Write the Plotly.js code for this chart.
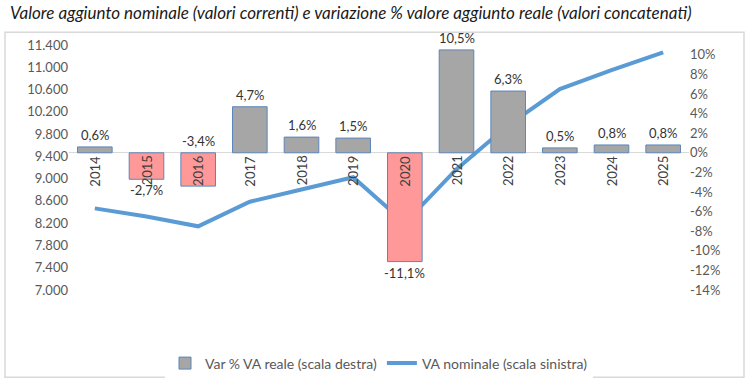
<!DOCTYPE html>
<html>
<head>
<meta charset="utf-8">
<script src="https://cdn.plot.ly/plotly-3.0.1.min.js"></script>
<style>html,body{margin:0;padding:0;background:#fff;}#chart{width:750px;height:391px;}</style>
</head>
<body>
<div id="chart"></div>
<script>
// ---- data ----
const years = ['2014','2015','2016','2017','2018','2019','2020','2021','2022','2023','2024','2025'];
const varReale = [0.6, -2.7, -3.4, 4.7, 1.6, 1.5, -11.1, 10.5, 6.3, 0.5, 0.8, 0.8];
const vaNominale = [8466, 8320, 8144, 8585, 8805, 9025, 8202, 9171, 9958, 10609, 10949, 11266];
const leftTicks = [7000, 7400, 7800, 8200, 8600, 9000, 9400, 9800, 10200, 10600, 11000, 11400];
const rightTicks = [-14, -12, -10, -8, -6, -4, -2, 0, 2, 4, 6, 8, 10];

// ---- styling ----
const FONT = 'Lato, "Liberation Sans", sans-serif';
const leftRange = [7000, 11400];
const rightRange = [-14, 11];
const labelAbove = new Set(['2016']);

const fmtIt = v => v.toLocaleString('it-IT');
const fmtPct = v => v.toFixed(1).replace('.', ',') + '%';

const barColors = varReale.map(v => v < 0 ? '#FF9999' : '#A6A6A6');

const bars = {
  type: 'bar', x: years, y: varReale, yaxis: 'y2', xaxis: 'x',
  name: 'Var % VA reale (scala destra)',
  marker: {color: barColors, line: {color: '#5B86B9', width: 1}},
  hoverinfo: 'skip'
};
const line = {
  type: 'scatter', mode: 'lines', x: years, y: vaNominale, yaxis: 'y', xaxis: 'x',
  name: 'VA nominale (scala sinistra)',
  line: {color: '#5B9BD5', width: 4},
  hoverinfo: 'skip'
};

// annotations on a category axis are placed by category index
const annotations = [];
years.forEach((yr, i) => {
  const v = varReale[i];
  const above = v >= 0 || labelAbove.has(yr);
  annotations.push({
    x: i, y: (v < 0 && above) ? 0 : v, xref: 'x', yref: 'y2',
    text: fmtPct(v), showarrow: false,
    yshift: above ? 12 : -11, yanchor: 'middle',
    font: {family: FONT, size: 13, color: '#333'}
  });
  annotations.push({
    x: i, y: 0, xref: 'x', yref: 'y2', text: yr, showarrow: false,
    textangle: -90, yshift: -18, yanchor: 'middle', xanchor: 'center',
    font: {family: FONT, size: 13, color: '#404040'}
  });
});
annotations.push({
  xref: 'paper', yref: 'paper', x: (8 - 69) / 620, y: 1, xanchor: 'left', yanchor: 'bottom',
  yshift: 20, text: '<i>Valore aggiunto nominale (valori correnti) e variazione % valore aggiunto reale (valori concatenati)</i>',
  showarrow: false, font: {family: FONT, size: 17, color: '#1a1a1a'}
});

const layout = {
  width: 750, height: 391,
  margin: {l: 69, r: 61, t: 45, b: 96},
  paper_bgcolor: '#fff', plot_bgcolor: '#fff',
  showlegend: true,
  legend: {orientation: 'h', x: 0.5, xanchor: 'center', y: -0.3, yanchor: 'middle',
           font: {family: FONT, size: 14, color: '#595959'}},
  bargap: 0.33,
  xaxis: {
    type: 'category', domain: [0, 1], range: [-0.5, years.length - 0.5],
    showline: false, showgrid: false, zeroline: false,
    ticks: '', showticklabels: false
  },
  yaxis: {
    range: leftRange, tickvals: leftTicks, ticktext: leftTicks.map(fmtIt),
    showgrid: false, zeroline: false, showline: false, ticks: '',
    tickfont: {family: FONT, size: 13, color: '#595959'}
  },
  yaxis2: {
    overlaying: 'y', side: 'right', range: rightRange,
    tickvals: rightTicks, ticktext: rightTicks.map(t => t + '%'),
    showgrid: false, zeroline: true, zerolinecolor: '#D9D9D9', zerolinewidth: 1,
    showline: false, ticks: '',
    tickfont: {family: FONT, size: 13, color: '#595959'}
  },
  annotations: annotations,
  shapes: [{
    type: 'rect', xref: 'paper', yref: 'paper',
    x0: (5 - 69) / 620, x1: (744 - 69) / 620,
    y0: (295 - 384) / 250, y1: (295 - 32) / 250,
    line: {color: '#D9D9D9', width: 1.5}, layer: 'below'
  }]
};

Plotly.newPlot('chart', [bars, line], layout, {displayModeBar: false, staticPlot: true});
</script>
</body>
</html>
